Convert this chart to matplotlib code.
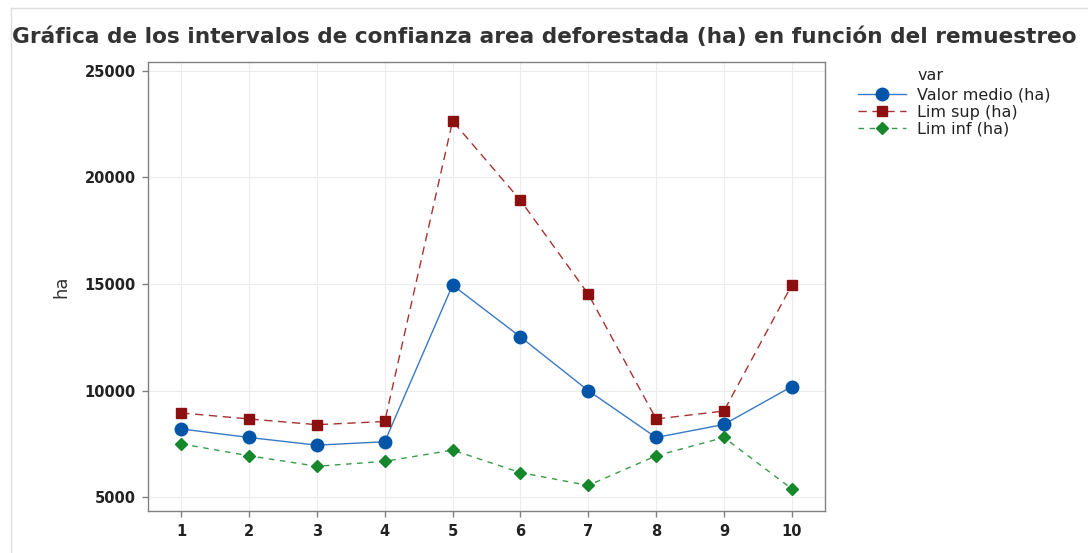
import matplotlib
matplotlib.use("Agg")
import matplotlib.pyplot as plt
from matplotlib.lines import Line2D

remuestreo = [1, 2, 3, 4, 5, 6, 7, 8, 9, 10]
valor_medio = [8200, 7800, 7440, 7600, 14950, 12520, 10000, 7800, 8410, 10190]
lim_sup = [8950, 8670, 8400, 8550, 22650, 18930, 14530, 8670, 9040, 14950]
lim_inf = [7500, 6940, 6450, 6680, 7210, 6150, 5550, 6940, 7800, 5390]
yticks = [5000, 10000, 15000, 20000, 25000]

fig = plt.figure(figsize=(10.88, 5.53), dpi=100)
ax = fig.add_axes([148/1088, 1 - 511/553, (825-148)/1088, (511-62)/553])

ax.plot(remuestreo, valor_medio, color='#3a78c4', lw=1.0, ls='-',
        marker='o', ms=9, mfc='#0055a8', mec='#0055a8', label='Valor medio (ha)', zorder=3)
ax.plot(remuestreo, lim_sup, color='#a83232', lw=1.0, ls=(0, (6, 4)),
        marker='s', ms=7.5, mfc='#8c1010', mec='#8c1010', label='Lim sup (ha)', zorder=3)
ax.plot(remuestreo, lim_inf, color='#3a9a4a', lw=1.0, ls=(0, (4, 4)),
        marker='D', ms=6.5, mfc='#16882c', mec='#16882c', label='Lim inf (ha)', zorder=3)

ax.set_xlim(0.51, 10.49)
ax.set_ylim(4350, 25420)
ax.set_xticks(remuestreo)
ax.set_yticks(yticks)
ax.set_xticklabels([str(v) for v in remuestreo], fontsize=10.5, fontweight='bold', color='#222222')
ax.set_yticklabels([str(v) for v in yticks], fontsize=10.5, fontweight='bold', color='#222222')
ax.grid(True, color='#ececec', lw=0.8)
ax.set_axisbelow(True)
for s in ax.spines.values():
    s.set_color('#808080')
    s.set_linewidth(1.0)
ax.tick_params(axis='both', length=4, color='#808080', width=1, pad=5)

ax.set_ylabel('ha', fontsize=13, color='#333333', labelpad=10)

fig.text(12/1088, 1 - 37/553, 'Gráfica de los intervalos de confianza area deforestada (ha) en función del remuestreo',
         fontsize=15.55, fontweight='semibold', color='#333333', va='center', ha='left')

leg = ax.legend(loc='upper left', bbox_to_anchor=(858/1088, 1 - 88/553), bbox_transform=fig.transFigure,
                frameon=False, fontsize=11.5, handlelength=3.0, handletextpad=0.7,
                labelspacing=0.12, borderaxespad=0, borderpad=0)
for t in leg.get_texts():
    t.set_color('#222222')
    t.set_fontweight('medium')
fig.text(918/1088, 1 - 76/553, 'var', fontsize=11.5, color='#222222', va='center', ha='left')

# screenshot border lines
fig.add_artist(Line2D([11/1088, 11/1088], [0, 1 - 8/553], transform=fig.transFigure, color='#dddddd', lw=1))
fig.add_artist(Line2D([11/1088, 1], [1 - 8/553, 1 - 8/553], transform=fig.transFigure, color='#dddddd', lw=1))

fig.savefig('out.png', dpi=100)
